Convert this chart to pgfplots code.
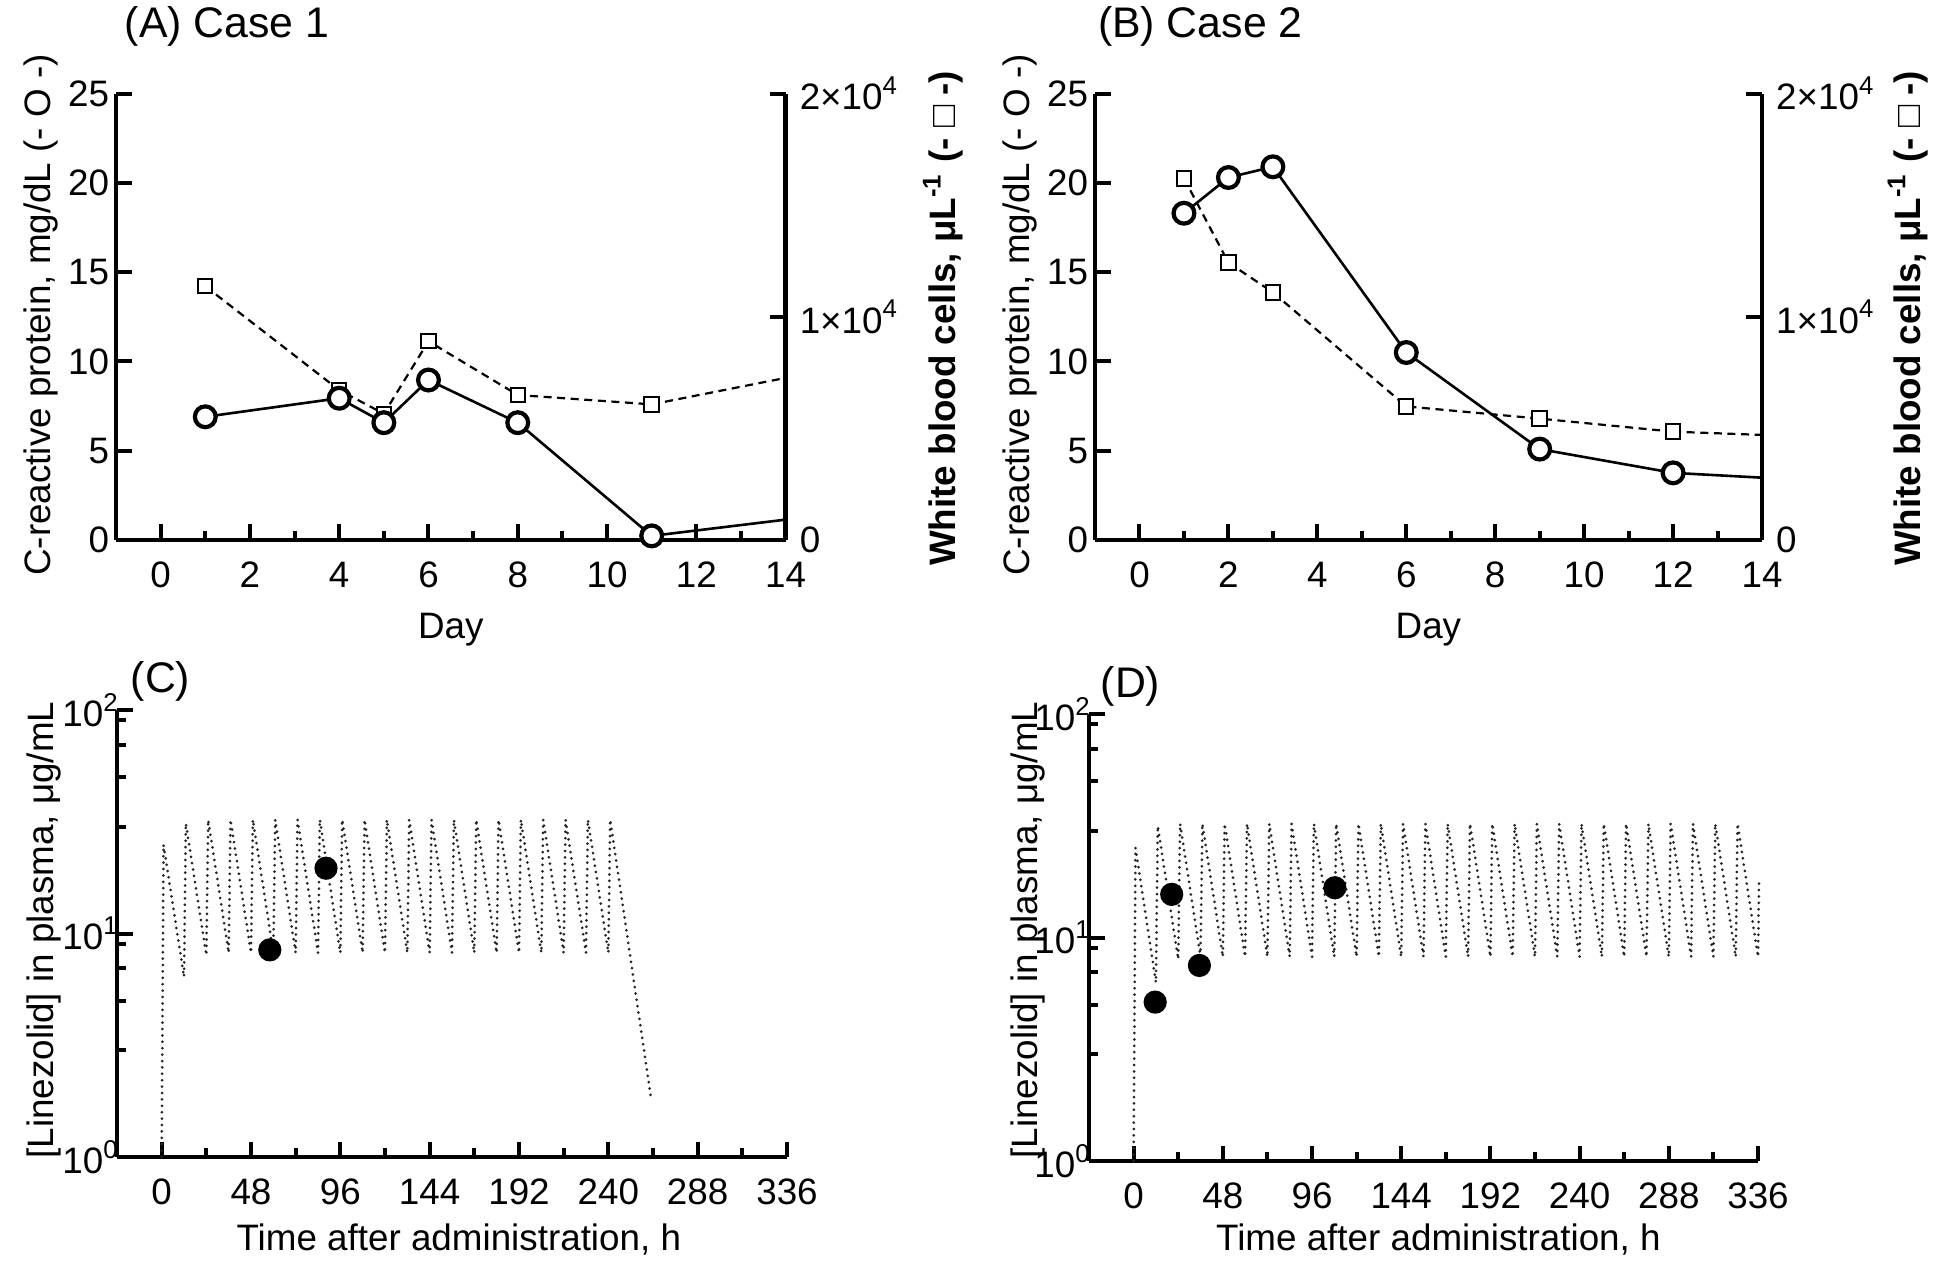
\documentclass[border=0pt]{standalone}
\usepackage{fontspec}
\setmainfont{Liberation Sans}
\usepackage{pgfplots}
\pgfplotsset{compat=1.18}

\pgfplotsset{
  base/.style={
    scale only axis,
    anchor=south west,
    clip=false,
    axis line style={line width=1.1pt},
    tick align=inside,
    major tick length=3.9pt,
    minor tick length=2.2pt,
    tick style={line width=1pt,black},
    tick label style={font=\fontsize{9.2}{11}\selectfont},
    xticklabel style={yshift=-2pt},
    /pgf/number format/assume math mode=true,
  },
  crp/.style={line width=0.65pt, black, mark=*, mark size=2.6pt,
    mark options={solid, fill=white, draw=black, line width=1.05pt}},
  wbc/.style={line width=0.55pt, black, dash pattern=on 2pt off 1.4pt, mark=square*, mark size=1.8pt,
    mark options={solid, fill=white, draw=black, line width=0.5pt}},
  sim/.style={line width=0.75pt, black!85, line cap=round, dash pattern=on 0pt off 1.6pt},
  obs/.style={only marks, mark=*, mark size=2.7pt, black},
}

\newcommand{\tfont}{\fontsize{10.7}{12}\selectfont}
\newcommand{\lfont}{\fontsize{9.2}{11}\selectfont}

\begin{document}
\begin{tikzpicture}
\path[use as bounding box] (0,0) rectangle (486pt,316.5pt);

% ---------------- Panel A ----------------
\begin{axis}[base, at={(29pt,181.5pt)}, width=167.4pt, height=111.6pt,
  xmin=-1, xmax=14, ymin=0, ymax=20000,
  axis x line=none, axis y line*=right,
  ytick={0,10000,20000},
  yticklabels={0,1×10\textsuperscript{4},2×10\textsuperscript{4}},
  scaled y ticks=false]
\addplot[wbc, mark=none] coordinates {(11,6077) (14,7263)};
\addplot[wbc] coordinates {(1,11369) (4,6715) (5,5657) (6,8905) (8,6496) (11,6077)};
\end{axis}
\begin{axis}[base, at={(29pt,181.5pt)}, width=167.4pt, height=111.6pt,
  xmin=-1, xmax=14, ymin=0, ymax=25,
  axis x line*=bottom, axis y line*=left,
  yticklabel style={xshift=1.8pt},
  xtick={0,2,...,14}, minor xtick={1,3,...,13},
  ytick={0,5,...,25}]
\addplot[crp, mark=none] coordinates {(11,0.23) (14,1.14)};
\addplot[crp] coordinates {(1,6.9) (4,7.94) (5,6.57) (6,8.96) (8,6.57) (11,0.23)};
\end{axis}

% ---------------- Panel B ----------------
\begin{axis}[base, at={(273.75pt,181.5pt)}, width=166.75pt, height=111.6pt,
  xmin=-1, xmax=14, ymin=0, ymax=20000,
  axis x line=none, axis y line*=right,
  ytick={0,10000,20000},
  yticklabels={0,1×10\textsuperscript{4},2×10\textsuperscript{4}},
  scaled y ticks=false]
\addplot[wbc, mark=none] coordinates {(12,4854) (14,4708)};
\addplot[wbc] coordinates {(1,16204) (2,12427) (3,11095) (6,5985) (9,5438) (12,4854)};
\end{axis}
\begin{axis}[base, at={(273.75pt,181.5pt)}, width=166.75pt, height=111.6pt,
  xmin=-1, xmax=14, ymin=0, ymax=25,
  axis x line*=bottom, axis y line*=left,
  yticklabel style={xshift=1.8pt},
  xtick={0,2,...,14}, minor xtick={1,3,...,13},
  ytick={0,5,...,25}]
\addplot[crp, mark=none] coordinates {(12,3.76) (14,3.49)};
\addplot[crp] coordinates {(1,18.3) (2,20.3) (3,20.9) (6,10.5) (9,5.09) (12,3.76)};
\end{axis}

% ---------------- Panel C ----------------
\begin{axis}[base, at={(29.25pt,27.25pt)}, width=167.5pt, height=111.75pt,
  xmin=-24, xmax=336,
  ymode=log, log basis y=10, ymin=1, ymax=100,
  ytick={1,10,100},
  yticklabel={10\textsuperscript{\pgfmathprintnumber[int detect]{\tick}}},
  yticklabel style={xshift=4.2pt},
  minor ytick={3,5,7,9,30,50,70,90},
  axis x line*=bottom, axis y line*=left,
  xtick={0,48,...,336}, minor xtick={24,72,...,312}]
\addplot[sim] coordinates {
 (0,1.0) (1,25.0) (12,6.4) (13,31.1) (24,8.0) (25,32.2) (36,8.2) (37,32.3)
 (48,8.2) (49,32.3) (60,8.2) (61,32.3) (72,8.2) (73,32.3) (84,8.2) (85,32.3)
 (96,8.2) (97,32.3) (108,8.2) (109,32.3) (120,8.2) (121,32.3) (132,8.2) (133,32.3)
 (144,8.2) (145,32.3) (156,8.2) (157,32.3) (168,8.2) (169,32.3) (180,8.2) (181,32.3)
 (192,8.2) (193,32.3) (204,8.2) (205,32.3) (216,8.2) (217,32.3) (228,8.2) (229,32.3)
 (240,8.2) (241,32.3) (263,1.82)};
\addplot[obs] coordinates {(58.1,8.45) (88.3,19.6)};
\end{axis}

% ---------------- Panel D ----------------
\begin{axis}[base, at={(272.25pt,26.25pt)}, width=167.25pt, height=111.75pt,
  xmin=-24, xmax=336,
  ymode=log, log basis y=10, ymin=1, ymax=100,
  ytick={1,10,100},
  yticklabel={10\textsuperscript{\pgfmathprintnumber[int detect]{\tick}}},
  yticklabel style={xshift=4.2pt},
  minor ytick={3,5,7,9,30,50,70,90},
  axis x line*=bottom, axis y line*=left,
  xtick={0,48,...,336}, minor xtick={24,72,...,312}]
\addplot[sim] coordinates {
 (0,1.0) (1,25.2) (12,6.3) (13,31.5) (24,8.0) (25,32.3) (36,8.2) (37,32.3)
 (48,8.2) (49,32.3) (60,8.2) (61,32.3) (72,8.2) (73,32.3) (84,8.2) (85,32.3)
 (96,8.2) (97,32.3) (108,8.2) (109,32.3) (120,8.2) (121,32.3) (132,8.2) (133,32.3)
 (144,8.2) (145,32.3) (156,8.2) (157,32.3) (168,8.2) (169,32.3) (180,8.2) (181,32.3)
 (192,8.2) (193,32.3) (204,8.2) (205,32.3) (216,8.2) (217,32.3) (228,8.2) (229,32.3)
 (240,8.2) (241,32.3) (252,8.2) (253,32.3) (264,8.2) (265,32.3) (276,8.2) (277,32.3)
 (288,8.2) (289,32.3) (300,8.2) (301,32.3) (312,8.2) (313,32.3) (324,8.2) (325,32.3)
 (336,8.2) (336.6,18.2)};
\addplot[obs] coordinates {(11.6,5.14) (20.5,15.6) (35.4,7.5) (108.3,16.7)};
\end{axis}

% ---------------- Titles and labels ----------------
\node[anchor=base west, font=\tfont, inner sep=0] at (31pt,307pt) {(A) Case 1};
\node[anchor=base west, font=\tfont, inner sep=0] at (274.3pt,307pt) {(B) Case 2};
\node[anchor=base west, font=\tfont, inner sep=0] at (32.5pt,143.5pt) {(C)};
\node[anchor=base west, font=\tfont, inner sep=0] at (275pt,142.25pt) {(D)};

\node[anchor=base, font=\lfont, inner sep=0] at (112.7pt,156.9pt) {Day};
\node[anchor=base, font=\lfont, inner sep=0] at (357.1pt,156.9pt) {Day};
\node[anchor=base, font=\lfont, inner sep=0] at (114.7pt,4pt) {Time after administration, h};
\node[anchor=base, font=\lfont, inner sep=0] at (359.6pt,4pt) {Time after administration, h};

\node[rotate=90, anchor=center, font=\lfont, inner sep=0] at (10.3pt,237.75pt) {C-reactive protein, mg/dL (- O -)};
\node[rotate=90, anchor=center, font=\lfont, inner sep=0] at (255pt,237.75pt) {C-reactive protein, mg/dL (- O -)};
\node[rotate=90, anchor=center, font=\lfont, inner sep=0] at (11pt,84pt) {[Linezolid] in plasma, μg/mL};
\node[rotate=90, anchor=center, font=\lfont, inner sep=0] at (257pt,84pt) {[Linezolid] in plasma, μg/mL};

\node[rotate=90, anchor=center, font=\lfont\bfseries, inner sep=0] at (235.8pt,236.9pt) {White blood cells, μL\textsuperscript{-1} (- □ -)};
\node[rotate=90, anchor=center, font=\lfont\bfseries, inner sep=0] at (477pt,236.9pt) {White blood cells, μL\textsuperscript{-1} (- □ -)};
\end{tikzpicture}
\end{document}
